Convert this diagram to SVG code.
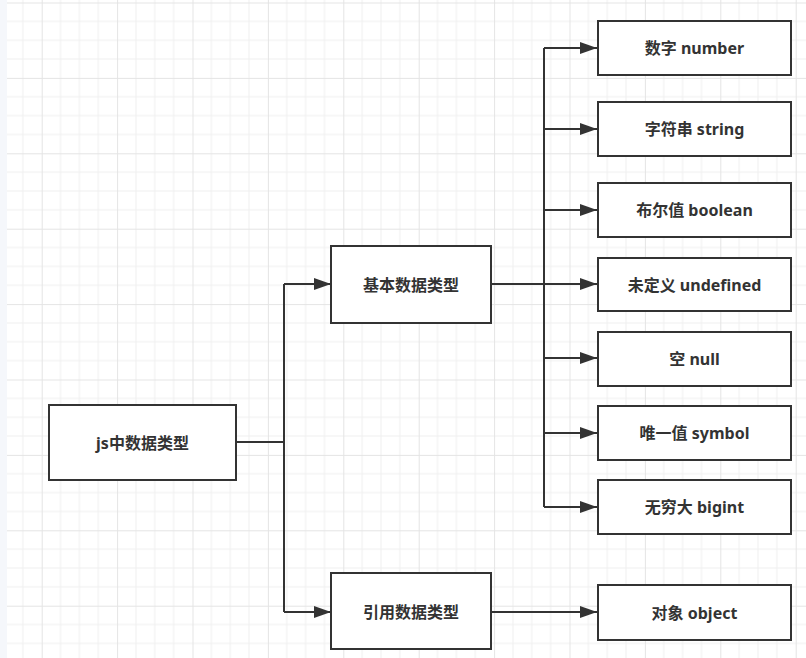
<svg xmlns="http://www.w3.org/2000/svg" width="806" height="658" viewBox="0 0 806 658">
<style>
.box{fill:#fff;stroke:#333;stroke-width:2}
.t{font-family:"Noto Sans","Noto Sans CJK SC",sans-serif;font-weight:bold;font-size:16px;fill:#333;text-anchor:middle;dominant-baseline:central}
.c{fill:none;stroke:#333;stroke-width:2}
</style>
<defs>
<pattern id="grid" patternUnits="userSpaceOnUse" x="41.7" y="2.5" width="75.4" height="75.4">
<path d="M18.85 0V75.4M37.7 0V75.4M56.55 0V75.4M0 18.85H75.4M0 37.7H75.4M0 56.55H75.4" stroke="#efefef" stroke-width="1" fill="none"/>
<path d="M0.5 0V75.4M0 0.5H75.4" stroke="#e4e4e4" stroke-width="1" fill="none"/>
</pattern>
<marker id="arr" viewBox="0 0 17 12" refX="17" refY="6" markerWidth="17" markerHeight="12" markerUnits="userSpaceOnUse" orient="auto">
<path d="M0 0L17 6L0 12z" fill="#333"/>
</marker>
</defs>
<rect width="806" height="658" fill="#fff"/>
<rect width="806" height="658" fill="url(#grid)"/>
<rect x="0" y="0" width="7" height="658" fill="#f5f7fb"/>
<g id="connectors">
<path class="c" d="M236 442H284"/>
<path class="c" d="M284 284V612"/>
<path class="c" d="M284 284H331" marker-end="url(#arr)"/>
<path class="c" d="M284 612H331" marker-end="url(#arr)"/>
<path class="c" d="M491 284H544"/>
<path class="c" d="M544 48V507"/>
<path class="c" d="M544 48H597" marker-end="url(#arr)"/>
<path class="c" d="M544 129H597" marker-end="url(#arr)"/>
<path class="c" d="M544 210H597" marker-end="url(#arr)"/>
<path class="c" d="M544 284H597" marker-end="url(#arr)"/>
<path class="c" d="M544 358H597" marker-end="url(#arr)"/>
<path class="c" d="M544 433H597" marker-end="url(#arr)"/>
<path class="c" d="M544 507H597" marker-end="url(#arr)"/>
<path class="c" d="M491 612H597" marker-end="url(#arr)"/>
</g>
<g id="root"><rect class="box" x="49" y="405" width="187" height="75"/><text class="t" x="142.5" y="442.5">js中数据类型</text></g>
<g id="basic"><rect class="box" x="331" y="246" width="160" height="77"/><text class="t" x="411" y="284.5">基本数据类型</text></g>
<g id="ref"><rect class="box" x="331" y="573" width="160" height="76"/><text class="t" x="411" y="611.5">引用数据类型</text></g>
<g id="number"><rect class="box" x="598" y="21" width="193" height="54"/><text class="t" x="694.5" y="48">数字 number</text></g>
<g id="string"><rect class="box" x="598" y="102" width="193" height="54"/><text class="t" x="694.5" y="129">字符串 string</text></g>
<g id="boolean"><rect class="box" x="598" y="183" width="193" height="54"/><text class="t" x="694.5" y="210">布尔值 boolean</text></g>
<g id="undefined"><rect class="box" x="598" y="258" width="193" height="53"/><text class="t" x="694.5" y="284.5">未定义 undefined</text></g>
<g id="null"><rect class="box" x="598" y="332" width="193" height="54"/><text class="t" x="694.5" y="359">空 null</text></g>
<g id="symbol"><rect class="box" x="598" y="406" width="193" height="54"/><text class="t" x="694.5" y="433">唯一值 symbol</text></g>
<g id="bigint"><rect class="box" x="598" y="480" width="193" height="54"/><text class="t" x="694.5" y="507">无穷大 bigint</text></g>
<g id="object"><rect class="box" x="598" y="585" width="193" height="55"/><text class="t" x="694.5" y="612.5">对象 object</text></g>
</svg>
